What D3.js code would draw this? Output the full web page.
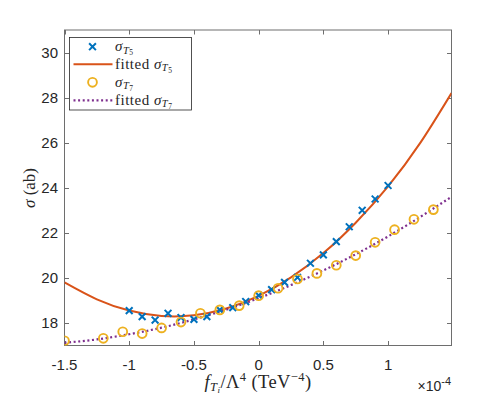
<!DOCTYPE html>
<html><head><meta charset="utf-8">
<script src="https://cdn.jsdelivr.net/npm/d3@7"></script>
<style>body{margin:0;background:#fff}text{fill:#262626}</style>
</head><body><svg id="c" width="498" height="399"></svg>
<script>
// ---- data (x in units of 1e-4 TeV^-4, sigma in ab) ----
const xT5 = [-1,-0.9,-0.8,-0.7,-0.6,-0.5,-0.4,-0.3,-0.2,-0.1,0,0.1,0.2,0.3,0.4,0.5,0.6,0.7,0.8,0.9,1.0];
const sigmaT5 = [18.55,18.28,18.13,18.43,18.24,18.16,18.28,18.58,18.68,18.95,19.22,19.48,19.8,20.02,20.65,21.02,21.61,22.27,23.0,23.5,24.1];
const xT7 = [-1.5,-1.2,-1.05,-0.9,-0.75,-0.6,-0.45,-0.3,-0.15,0,0.15,0.3,0.45,0.6,0.75,0.9,1.05,1.2,1.35];
const sigmaT7 = [17.21,17.32,17.61,17.53,17.78,18.04,18.43,18.58,18.77,19.21,19.54,19.95,20.2,20.56,20.99,21.58,22.14,22.6,23.03];
const fitX = [-1.5,-1.25,-1,-0.75,-0.5,-0.25,0,0.25,0.5,0.75,1,1.25,1.49];
const fitT5 = [19.8,19.05,18.55,18.31,18.34,18.64,19.2,20.02,21.1,22.45,24.06,26.0,28.2];
const fitT7 = [17.12,17.27,17.5,17.79,18.16,18.59,19.1,19.68,20.33,21.05,21.84,22.71,23.6];
const xTicks = [-1.5,-1,-0.5,0,0.5,1];
const xTickLabels = ["-1.5","-1","-0.5","0","0.5","1"];
const yTicks = [18,20,22,24,26,28,30];
const yTickLabels = ["18","20","22","24","26","28","30"];

const svg = d3.select("#c");
const L=64.5, R=451.5, T=30, B=345.5;
const x = d3.scaleLinear().domain([-1.5,1.49]).range([L,R]);
const y = d3.scaleLinear().domain([17,31]).range([B,T]);

const serif = "'Liberation Serif','DejaVu Serif',serif";
const sans = "'Liberation Sans',Arial,sans-serif";

svg.append("defs").append("clipPath").attr("id","clip")
  .append("rect").attr("x",L).attr("y",T).attr("width",R-L).attr("height",B-T);

// axes frame
const axCol = "#6e6e6e";
svg.append("rect").attr("x",L).attr("y",T).attr("width",R-L).attr("height",B-T)
  .attr("fill","none").attr("stroke",axCol).attr("stroke-width",1);
const tl = 4.5;
const g = svg.append("g").attr("stroke",axCol).attr("stroke-width",1);
xTicks.forEach(v=>{
  const px = Math.round(x(v))+0.5;
  g.append("line").attr("x1",px).attr("x2",px).attr("y1",B).attr("y2",B-tl);
  g.append("line").attr("x1",px).attr("x2",px).attr("y1",T).attr("y2",T+tl);
});
yTicks.forEach(v=>{
  const py = Math.round(y(v))+0.5;
  g.append("line").attr("x1",L).attr("x2",L+tl).attr("y1",py).attr("y2",py);
  g.append("line").attr("x1",R).attr("x2",R-tl).attr("y1",py).attr("y2",py);
});
xTicks.forEach((v,i)=>{
  svg.append("text").attr("x",x(v)).attr("y",370).attr("text-anchor","middle")
    .attr("font-family",sans).attr("font-size",15).text(xTickLabels[i]);
});
yTicks.forEach((v,i)=>{
  svg.append("text").attr("x",58).attr("y",y(v)+5.3).attr("text-anchor","end")
    .attr("font-family",sans).attr("font-size",15).text(yTickLabels[i]);
});
// x10^-4
const ex = svg.append("text").attr("x",451).attr("y",391).attr("text-anchor","end")
  .attr("font-family",sans).attr("font-size",14);
ex.append("tspan").text("×10");
ex.append("tspan").attr("dy",-6).attr("font-size",11).text("-4");

// fitted curves
const pl = svg.append("g").attr("clip-path","url(#clip)");
const line = d3.line().x(d=>x(d[0])).y(d=>y(d[1])).curve(d3.curveNatural);
pl.append("path").datum(fitX.map((v,i)=>[v,fitT5[i]])).attr("d",line)
  .attr("fill","none").attr("stroke","#D95319").attr("stroke-width",2);
pl.append("path").datum(fitX.map((v,i)=>[v,fitT7[i]])).attr("d",line)
  .attr("fill","none").attr("stroke","#7E2F8E").attr("stroke-width",2.2)
  .attr("stroke-dasharray","2,2.6");

// markers
const cs = 3.4;
function crossPath(cx,cy){return `M${cx-cs},${cy-cs}L${cx+cs},${cy+cs}M${cx-cs},${cy+cs}L${cx+cs},${cy-cs}`;}
pl.selectAll(".x5").data(xT5.map((v,i)=>[v,sigmaT5[i]])).enter().append("path")
  .attr("d",d=>crossPath(x(d[0]),y(d[1]))).attr("stroke","#0072BD").attr("stroke-width",2).attr("fill","none");
pl.selectAll(".o7").data(xT7.map((v,i)=>[v,sigmaT7[i]])).enter().append("circle")
  .attr("cx",d=>x(d[0])).attr("cy",d=>y(d[1])).attr("r",4.4)
  .attr("fill","none").attr("stroke","#EDB120").attr("stroke-width",1.9);

// axis labels
const xl = svg.append("text").attr("x",258).attr("y",388).attr("text-anchor","middle")
  .attr("font-family",serif).attr("font-size",18.5).attr("letter-spacing",0.4);
xl.append("tspan").attr("font-style","italic").text("f");
xl.append("tspan").attr("font-style","italic").attr("font-size",12.5).attr("dy",3).text("T");
xl.append("tspan").attr("font-style","italic").attr("font-size",9).attr("dy",2).text("i");
xl.append("tspan").attr("dy",-5).text("/Λ");
xl.append("tspan").attr("font-size",12.5).attr("dy",-7).text("4");
xl.append("tspan").attr("dy",7).text(" (TeV");
xl.append("tspan").attr("font-size",12.5).attr("dy",-7).text("−4");
xl.append("tspan").attr("dy",7).text(")");

const yl = svg.append("text").attr("transform","translate(35,188) rotate(-90)")
  .attr("text-anchor","middle").attr("font-family",serif).attr("font-size",17);
yl.append("tspan").attr("font-style","italic").text("σ");
yl.append("tspan").text(" (ab)");

// legend
const lg = svg.append("g");
lg.append("rect").attr("x",69.5).attr("y",37.5).attr("width",122).attr("height",72.5)
  .attr("fill","#fff").attr("stroke","#262626").attr("stroke-width",0.8);
const rows = [46.7,64.3,82.3,100.3];
lg.append("path").attr("d",crossPath(92.5,rows[0])).attr("stroke","#0072BD").attr("stroke-width",2);
lg.append("line").attr("x1",73.5).attr("x2",112.5).attr("y1",rows[1]).attr("y2",rows[1])
  .attr("stroke","#D95319").attr("stroke-width",2);
lg.append("circle").attr("cx",92.5).attr("cy",rows[2]).attr("r",4.4).attr("fill","none")
  .attr("stroke","#EDB120").attr("stroke-width",1.9);
lg.append("line").attr("x1",73.5).attr("x2",112.5).attr("y1",rows[3]).attr("y2",rows[3])
  .attr("stroke","#7E2F8E").attr("stroke-width",2.2).attr("stroke-dasharray","2,2.6");
const labs = [["",5],["fitted ",5],["",7],["fitted ",7]];
labs.forEach((l,i)=>{
  const t = lg.append("text").attr("x",115).attr("y",rows[i]+4.5).attr("font-family",serif)
    .attr("font-size",15).attr("letter-spacing",0.5);
  if(l[0]) t.append("tspan").text(l[0]);
  t.append("tspan").attr("font-style","italic").text("σ");
  t.append("tspan").attr("font-style","italic").attr("font-size",10.5).attr("dy",2.5).text("T");
  t.append("tspan").attr("font-size",7.5).attr("dy",1.5).text(l[1]);
});
</script></body></html>
